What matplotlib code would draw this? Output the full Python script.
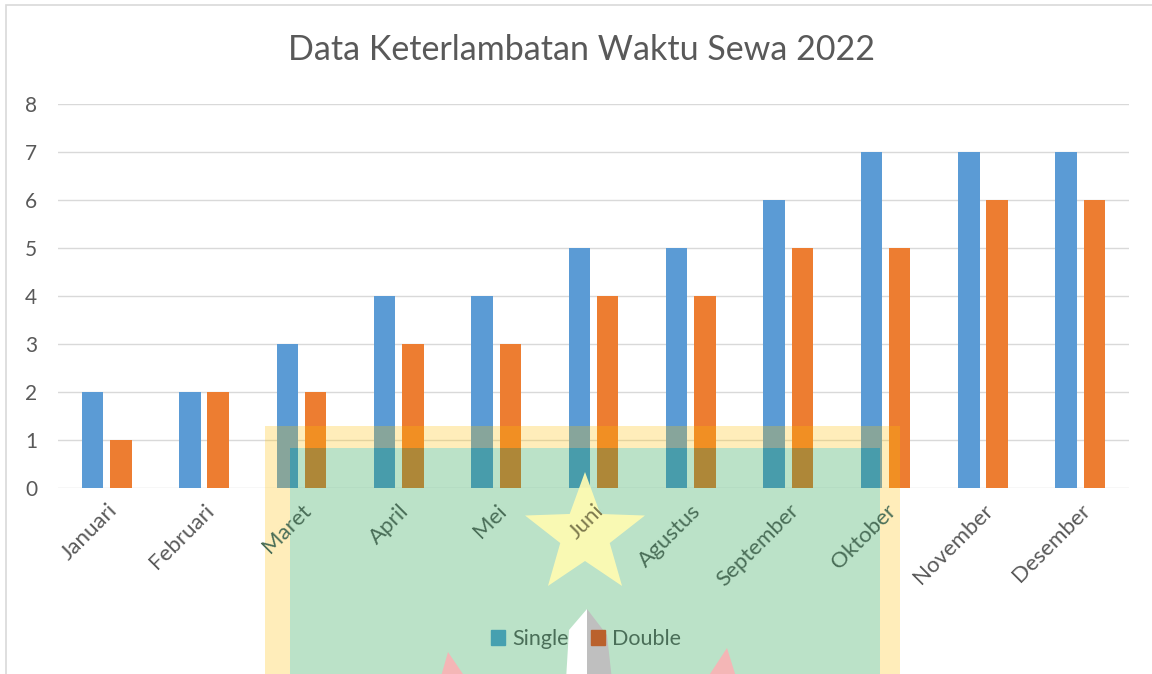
import numpy as np
import matplotlib
matplotlib.use("Agg")
from matplotlib import pyplot as plt
from matplotlib.patches import Rectangle, Polygon, Patch

plt.rcParams['font.family'] = ['Lato', 'DejaVu Sans']

# DATA
bulan = ["Januari", "Februari", "Maret", "April", "Mei", "Juni",
         "Agustus", "September", "Oktober", "November", "Desember"]
series = ["Single", "Double"]
single = [2, 2, 3, 4, 4, 5, 5, 6, 7, 7, 7]
double = [1, 2, 2, 3, 3, 4, 4, 5, 5, 6, 6]
yticks = [0, 1, 2, 3, 4, 5, 6, 7, 8]

W, H = 1152, 674
fig = plt.figure(figsize=(W / 100, H / 100), dpi=100)

def px(x, y):
    # pixel (from top-left) -> figure fraction
    return (x / W, 1 - y / H)

ax = fig.add_axes([58 / W, 1 - 488 / H, (1129 - 58) / W, (488 - 104) / H])

x = np.arange(len(bulan))
bw = 0.22
ax.bar(x - 0.145, single, bw, color='#5B9BD5', zorder=3)
ax.bar(x + 0.145, double, bw, color='#ED7D31', zorder=3)

ax.set_xlim(-0.5, len(bulan) - 0.5)
ax.set_ylim(0, 8)
ax.set_yticks(yticks)
for t in yticks:
    ax.axhline(t, color='#D9D9D9', lw=1, zorder=0)
for s in ax.spines.values():
    s.set_visible(False)
ax.tick_params(axis='both', length=0, colors='#595959', labelsize=15)
ax.tick_params(axis='y', pad=15)
ax.set_xticks(x)
ax.set_xticklabels(bulan, rotation=45, ha='right', rotation_mode='anchor', fontsize=16)
ax.tick_params(axis='x', pad=9)
# labels sit on top of the overlay shapes, tinted like the reference
ax.xaxis.set_zorder(20)
ax.yaxis.set_zorder(20)
for lab in ax.get_xticklabels():
    if lab.get_text() in bulan[2:9]:
        lab.set_color('#4A6E58')
    if lab.get_text() == "Juni":
        lab.set_color('#7D7A4E')

fig.text(582 / W, 1 - 50 / H, "Data Keterlambatan Waktu Sewa 2022",
         ha='center', va='center', fontsize=24.5, color='#595959')

# legend sits inside the green overlay, so its colours are tinted
handles = [Patch(color='#46A0B0'), Patch(color='#BA612C')]
leg = ax.legend(handles, series, loc='center', bbox_to_anchor=px(586, 639),
                bbox_transform=fig.transFigure, ncol=2, frameon=False,
                fontsize=15.5, labelcolor='#4A6E58', handlelength=0.65, handleheight=0.65,
                handletextpad=0.35, columnspacing=1.0)
leg.set_zorder(12)

# chart border
fig.add_artist(Rectangle(px(6, 700), 1200 / W, 695 / H, fill=False,
                         ec='#D9D9D9', lw=1.2, transform=fig.transFigure, zorder=1))

# decorative overlay shapes (drawn inside the axes, below the tick labels)
def put(a, z):
    a.set_transform(fig.transFigure)
    a.set_zorder(z)
    ax.add_artist(a)
    a.set_clip_on(False)

def rect(x0, y0, x1, y1, z=10, **kw):
    put(Rectangle(px(x0, y1), (x1 - x0) / W, (y1 - y0) / H, lw=0, **kw), z)

def poly(pts, z=11, **kw):
    put(Polygon([px(a, b) for a, b in pts], closed=True, lw=0, **kw), z)

yel = dict(color='#FFC000', alpha=0.27)
rect(265, 426, 290, 680, **yel)
rect(880, 426, 900, 680, **yel)
rect(290, 426, 880, 448, **yel)
rect(290, 448, 880, 680, color='#1EA04B', alpha=0.3)

# star
cx, cy, r_out, r_in = 585, 535, 63, 26
ang = np.pi / 2 + np.arange(10) * np.pi / 5
rad = np.where(np.arange(10) % 2 == 0, r_out, r_in)
poly(list(zip(cx + rad * np.cos(ang), cy - rad * np.sin(ang))),
     color='#FFFBB2', alpha=0.93)

# pencil-like shape
poly([(587, 609), (569, 630), (566, 680), (587, 680)], color='white')
poly([(587, 609), (607, 635), (612, 680), (587, 680)], color='#BFBFBF')

# pink triangles
poly([(448, 652), (440, 680), (467, 680)], color='#F4B6B6')
poly([(727, 648), (706, 680), (737, 680)], color='#F4B6B6')

fig.savefig('out.png', dpi=100)
